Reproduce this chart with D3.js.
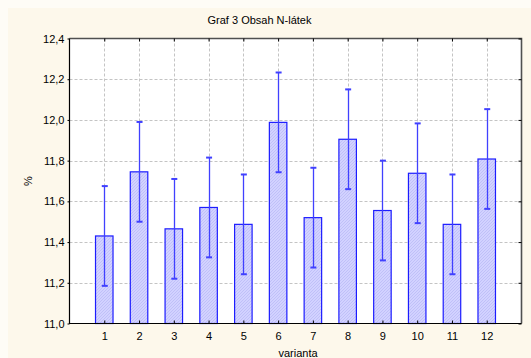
<!DOCTYPE html>
<html>
<head>
<meta charset="utf-8">
<script src="https://cdn.jsdelivr.net/npm/d3@7"></script>
<style>
  body { margin: 0; background: #fefcf6; }
  svg { display: block; }
  text { font-family: Arial, "Liberation Sans", sans-serif; fill: #000; }
</style>
</head>
<body>
<svg id="chart" width="531" height="358"></svg>
<script>
// data
var categories = ["1","2","3","4","5","6","7","8","9","10","11","12"];
var means = [11.43, 11.745, 11.465, 11.57, 11.487, 11.988, 11.52, 11.905, 11.555, 11.738, 11.487, 11.808];
var upper = [11.675, 11.99, 11.71, 11.815, 11.732, 12.233, 11.765, 12.15, 11.80, 11.983, 11.732, 12.053];
var lower = [11.185, 11.50, 11.22, 11.325, 11.242, 11.743, 11.275, 11.66, 11.31, 11.493, 11.242, 11.563];
var yTicks = [11.0, 11.2, 11.4, 11.6, 11.8, 12.0, 12.2, 12.4];

var svg = d3.select("#chart");

// cream panel
svg.append("rect").attr("x", 8).attr("y", 8).attr("width", 523).attr("height", 350)
  .attr("fill", "#fdf8eb");

var pLeft = 69.5, pRight = 521.5, pTop = 38.5, pBottom = 323.5;

var x = d3.scaleLinear().domain([0, categories.length + 1]).range([pLeft, pRight]);
var y = d3.scaleLinear().domain([11.0, 12.4]).range([pBottom, pTop]);

// hatch pattern for the bars
var defs = svg.append("defs");
var pat = defs.append("pattern").attr("id", "hatch").attr("patternUnits", "userSpaceOnUse")
  .attr("width", 3).attr("height", 3);
pat.append("rect").attr("width", 3).attr("height", 3).attr("fill", "#d2d2ff");
pat.append("path").attr("d", "M-1,1 l2,-2 M0,3 l3,-3 M2,4 l2,-2")
  .attr("stroke", "#b4b4f4").attr("stroke-width", 0.6);

// plot background
svg.append("rect").attr("x", pLeft).attr("y", pTop).attr("width", pRight - pLeft).attr("height", pBottom - pTop)
  .attr("fill", "#fff");

// grid
svg.append("g").selectAll("line").data(yTicks.slice(1, -1)).enter().append("line")
  .attr("x1", pLeft).attr("x2", pRight)
  .attr("y1", function(d) { return Math.round(y(d)) + 0.5; })
  .attr("y2", function(d) { return Math.round(y(d)) + 0.5; })
  .attr("stroke", "#c4c4c4").attr("stroke-dasharray", "3,2");
svg.append("g").selectAll("line").data(categories).enter().append("line")
  .attr("x1", function(d, i) { return Math.round(x(i + 1)) + 0.5; })
  .attr("x2", function(d, i) { return Math.round(x(i + 1)) + 0.5; })
  .attr("y1", pTop).attr("y2", pBottom)
  .attr("stroke", "#c4c4c4").attr("stroke-dasharray", "3,2");

// bars
var bw = 17.5;
svg.append("g").selectAll("rect").data(means).enter().append("rect")
  .attr("x", function(d, i) { return x(i + 1) - bw / 2; })
  .attr("y", function(d) { return y(d); })
  .attr("width", bw)
  .attr("height", function(d) { return y(11.0) - y(d); })
  .attr("fill", "url(#hatch)")
  .attr("stroke", "#1c1cff").attr("stroke-width", 1.2);

// error bars
var eb = svg.append("g").attr("stroke", "#4040ff").attr("stroke-width", 1.3);
eb.selectAll("line.v").data(means).enter().append("line").attr("class", "v")
  .attr("x1", function(d, i) { return Math.round(x(i + 1)) + 0.5; })
  .attr("x2", function(d, i) { return Math.round(x(i + 1)) + 0.5; })
  .attr("y1", function(d, i) { return y(upper[i]); })
  .attr("y2", function(d, i) { return y(lower[i]); });
eb.selectAll("line.u").data(upper).enter().append("line").attr("class", "u")
  .attr("x1", function(d, i) { return x(i + 1) - 2.5; })
  .attr("x2", function(d, i) { return x(i + 1) + 3.5; })
  .attr("y1", function(d) { return y(d); })
  .attr("y2", function(d) { return y(d); })
  .attr("stroke-width", 2);
eb.selectAll("line.l").data(lower).enter().append("line").attr("class", "l")
  .attr("x1", function(d, i) { return x(i + 1) - 2.5; })
  .attr("x2", function(d, i) { return x(i + 1) + 3.5; })
  .attr("y1", function(d) { return y(d); })
  .attr("y2", function(d) { return y(d); })
  .attr("stroke-width", 2);

// frame: top and right grey, left and bottom black
svg.append("path").attr("d", "M" + pLeft + "," + pTop + "H" + pRight + "V" + pBottom)
  .attr("fill", "none").attr("stroke", "#505050").attr("stroke-width", 1.6);
svg.append("path").attr("d", "M" + pLeft + "," + pTop + "V" + pBottom + "H" + pRight)
  .attr("fill", "none").attr("stroke", "#000").attr("stroke-width", 1.2);

// axes
var fmt = function(d) { return d3.format(".1f")(d).replace(".", ","); };
svg.append("g").attr("transform", "translate(" + pLeft + ",0)")
  .call(d3.axisLeft(y).tickValues(yTicks).tickFormat(fmt).tickSize(2).tickPadding(3));
svg.append("g").attr("transform", "translate(0," + pBottom + ")")
  .call(d3.axisBottom(x).tickValues(d3.range(1, categories.length + 1))
    .tickFormat(function(d) { return categories[d - 1]; }).tickSizeInner(-3).tickSizeOuter(0).tickPadding(9));
svg.append("g").attr("transform", "translate(0," + pTop + ")")
  .call(d3.axisTop(x).tickValues(d3.range(1, categories.length + 1)).tickFormat("").tickSizeInner(-3).tickSizeOuter(0));
svg.append("g").attr("transform", "translate(" + pRight + ",0)")
  .call(d3.axisRight(y).tickValues(yTicks).tickFormat("").tickSizeInner(-3).tickSizeOuter(0));
svg.selectAll(".domain").remove();
svg.selectAll(".tick line").attr("stroke", "#000");
svg.selectAll(".tick text").style("font-size", "11px").style("font-family", "Arial, 'Liberation Sans', sans-serif");

// titles
svg.append("text").attr("x", 259.5).attr("y", 24).attr("text-anchor", "middle")
  .style("font-size", "11px").text("Graf 3 Obsah N-látek");
svg.append("text").attr("x", 298).attr("y", 357).attr("text-anchor", "middle")
  .style("font-size", "11px").text("varianta");
svg.append("text").attr("transform", "translate(32,181) rotate(-90)").attr("text-anchor", "middle")
  .style("font-size", "11px").text("%");
</script>
</body>
</html>
